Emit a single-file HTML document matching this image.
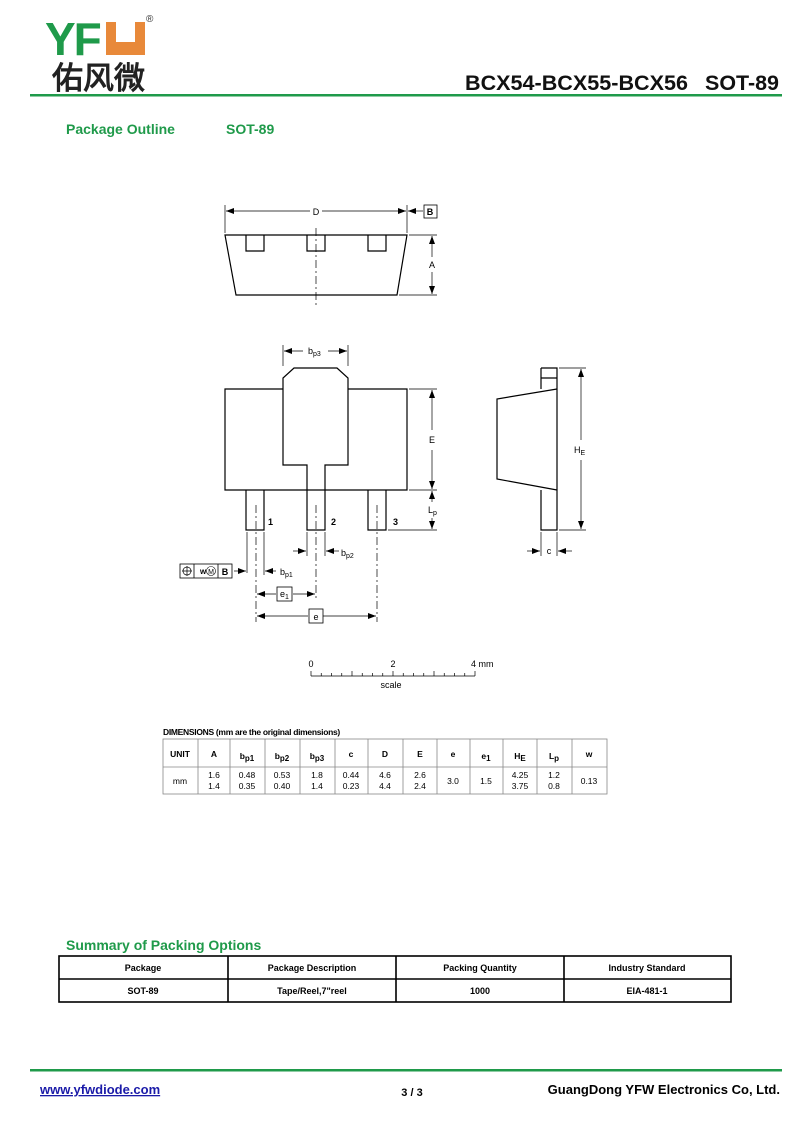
<!DOCTYPE html>
<html><head><meta charset="utf-8"><style>
html,body{margin:0;padding:0;background:#fff}
svg{display:block}
text{font-family:"Liberation Sans",Arial,sans-serif}
</style></head><body>
<svg width="800" height="1130" viewBox="0 0 800 1130" xmlns="http://www.w3.org/2000/svg">
<defs>
<marker id="ar" markerWidth="8" markerHeight="6" refX="8" refY="3" orient="auto" markerUnits="userSpaceOnUse"><path d="M0,0 L8,3 L0,6 z" fill="#000"/></marker>
</defs>
<text x="45" y="55" font-size="46" font-weight="bold" fill="#1f9a4a" letter-spacing="-2">YF</text>
<path d="M106,22 h10 v20 h19 v-20 h10 v33 h-39 z" fill="#e8893a"/>
<text x="146" y="22" font-size="10" fill="#333">®</text>
<text x="52" y="89" font-size="31" font-weight="bold" fill="#222" font-family="'Liberation Sans','Noto Sans CJK SC',sans-serif">佑风微</text>
<text x="465" y="90" font-size="21" font-weight="bold" fill="#111" textLength="223" lengthAdjust="spacingAndGlyphs">BCX54-BCX55-BCX56</text>
<text x="705" y="90" font-size="21" font-weight="bold" fill="#111" textLength="74" lengthAdjust="spacingAndGlyphs">SOT-89</text>
<rect x="30" y="94" width="752" height="2.5" fill="#1f9a4a"/>
<text x="66" y="134" font-size="14" font-weight="bold" fill="#1f9a4a">Package Outline</text>
<text x="226" y="134" font-size="14" font-weight="bold" fill="#1f9a4a">SOT-89</text>

<g stroke="#000" stroke-width="1.2" fill="none">
<path d="M225,235 L407,235 L397,295 L236,295 Z"/>
<path d="M246,235 v16 h18 v-16 M307,235 v16 h18 v-16 M368,235 v16 h18 v-16"/>
<path d="M316,228 V305" stroke-dasharray="8,3,2,3" stroke-width="0.7"/>
<path d="M225,205 V233 M407,205 V233" stroke-width="0.7"/>
<path d="M310,211 H226" marker-end="url(#ar)" stroke-width="0.7"/>
<path d="M322,211 H406" marker-end="url(#ar)" stroke-width="0.7"/>
<path d="M423,211 H408" marker-end="url(#ar)" stroke-width="0.7"/>
<rect x="424" y="205" width="13" height="13" stroke-width="0.8"/>
<path d="M409,235 H437 M399,295 H437" stroke-width="0.7"/>
<path d="M432,257 V236" marker-end="url(#ar)" stroke-width="0.7"/>
<path d="M432,272 V294" marker-end="url(#ar)" stroke-width="0.7"/>

<path d="M283,389 H225 V490 H407 V389 H348"/>
<path d="M283,465 V378 L294,368 H337 L348,378 V465 H325 V530 H307 V465 Z"/>
<path d="M246,490 V530 H264 V490 M368,490 V530 H386 V490"/>
<path d="M256,505 V622 M316,505 V600 M377,505 V622" stroke-dasharray="8,3,2,3" stroke-width="0.7"/>
<path d="M283,345 V366 M348,345 V366" stroke-width="0.7"/>
<path d="M303,351 H284" marker-end="url(#ar)" stroke-width="0.7"/>
<path d="M328,351 H347" marker-end="url(#ar)" stroke-width="0.7"/>
<path d="M409,389 H437 M409,490 H437 M388,530 H437" stroke-width="0.7"/>
<path d="M432,430 V390" marker-end="url(#ar)" stroke-width="0.7"/>
<path d="M432,450 V489" marker-end="url(#ar)" stroke-width="0.7"/>
<path d="M432,502 V491" marker-end="url(#ar)" stroke-width="0.7"/>
<path d="M432,518 V529" marker-end="url(#ar)" stroke-width="0.7"/>
<path d="M307,532 V556 M325,532 V556 M247,532 V573 M264,532 V575" stroke-width="0.7"/>
<path d="M293,551 H306" marker-end="url(#ar)" stroke-width="0.7"/>
<path d="M339,551 H326" marker-end="url(#ar)" stroke-width="0.7"/>
<path d="M276,571 H265" marker-end="url(#ar)" stroke-width="0.7"/>
<path d="M234,571 H246" marker-end="url(#ar)" stroke-width="0.7"/>
<rect x="180" y="564" width="52" height="14" stroke-width="0.8"/>
<path d="M194,564 V578 M218,564 V578" stroke-width="0.8"/>
<circle cx="187" cy="571" r="4" stroke-width="0.7"/>
<path d="M182,571 H192 M187,566 V576" stroke-width="0.7"/>
<circle cx="211" cy="571" r="4.5" stroke-width="0.6"/>
<path d="M276,594 H257" marker-end="url(#ar)" stroke-width="0.7"/>
<path d="M293,594 H315" marker-end="url(#ar)" stroke-width="0.7"/>
<rect x="277" y="587" width="15" height="14" stroke-width="0.8"/>
<path d="M308,616 H257" marker-end="url(#ar)" stroke-width="0.7"/>
<path d="M323,616 H376" marker-end="url(#ar)" stroke-width="0.7"/>
<rect x="309" y="609" width="14" height="14" stroke-width="0.8"/>

<path d="M541,368 H557 V530 H541 V490 M541,368 V389 M541,378 H557"/>
<path d="M557,389 L497,399 V479 L557,490"/>
<path d="M559,368 H586 M559,530 H586" stroke-width="0.7"/>
<path d="M581,440 V369" marker-end="url(#ar)" stroke-width="0.7"/>
<path d="M581,460 V529" marker-end="url(#ar)" stroke-width="0.7"/>
<path d="M541,532 V556 M557,532 V556" stroke-width="0.7"/>
<path d="M527,551 H540" marker-end="url(#ar)" stroke-width="0.7"/>
<path d="M572,551 H558" marker-end="url(#ar)" stroke-width="0.7"/>

<path d="M311,676 H475" stroke-width="0.7"/>
<path d="M311,671 V676 M352,671 V676 M393,671 V676 M434,671 V676 M475,671 V676 M321.25,673 V676 M331.5,673 V676 M341.75,673 V676 M362.25,673 V676 M372.5,673 V676 M382.75,673 V676 M403.25,673 V676 M413.5,673 V676 M423.75,673 V676 M444.25,673 V676 M454.5,673 V676 M464.75,673 V676" stroke-width="0.7"/>
</g>

<g font-size="9" fill="#000">
<text x="316" y="215" text-anchor="middle">D</text>
<text x="430" y="215" text-anchor="middle" font-weight="bold">B</text>
<text x="432" y="268" text-anchor="middle">A</text>
<text x="308" y="354">b<tspan font-size="7" dy="2">p3</tspan></text>
<text x="432" y="443" text-anchor="middle">E</text>
<text x="428" y="513">L<tspan font-size="7" dy="2">p</tspan></text>
<text x="574" y="453">H<tspan font-size="7" dy="2">E</tspan></text>
<text x="268" y="525" font-weight="bold">1</text>
<text x="331" y="525" font-weight="bold">2</text>
<text x="393" y="525" font-weight="bold">3</text>
<text x="341" y="556">b<tspan font-size="7" dy="2">p2</tspan></text>
<text x="280" y="575">b<tspan font-size="7" dy="2">p1</tspan></text>
<text x="280" y="597">e<tspan font-size="7" dy="2">1</tspan></text>
<text x="316" y="620" text-anchor="middle">e</text>
<text x="549" y="554" text-anchor="middle">c</text>
<text x="200" y="574" font-size="8" font-weight="bold">w</text>
<text x="211" y="574" font-size="7" text-anchor="middle">M</text>
<text x="225" y="575" text-anchor="middle" font-weight="bold">B</text>
<text x="311" y="667" text-anchor="middle">0</text>
<text x="393" y="667" text-anchor="middle">2</text>
<text x="471" y="667">4 mm</text>
<text x="391" y="688" text-anchor="middle">scale</text>
</g>

<text x="163" y="735" font-size="8.5" font-weight="bold" letter-spacing="-0.3">DIMENSIONS (mm are the original dimensions)</text>
<g stroke="#888" stroke-width="0.8" fill="none">
<rect x="163" y="739" width="444" height="55"/>
<path d="M163,767 H607 M198,739 V794 M230,739 V794 M265,739 V794 M300,739 V794 M335,739 V794 M368,739 V794 M403,739 V794 M437,739 V794 M470,739 V794 M503,739 V794 M537,739 V794 M572,739 V794"/>
</g>
<g font-size="8.5" text-anchor="middle" fill="#000">
<g font-weight="bold">
<text x="180" y="757">UNIT</text>
<text x="214" y="757">A</text>
<text x="247" y="759">b<tspan font-size="8" dy="2">p1</tspan></text>
<text x="282" y="759">b<tspan font-size="8" dy="2">p2</tspan></text>
<text x="317" y="759">b<tspan font-size="8" dy="2">p3</tspan></text>
<text x="351" y="757">c</text>
<text x="385" y="757">D</text>
<text x="420" y="757">E</text>
<text x="453" y="757">e</text>
<text x="486" y="759">e<tspan font-size="8" dy="2">1</tspan></text>
<text x="520" y="759">H<tspan font-size="8" dy="2">E</tspan></text>
<text x="554" y="759">L<tspan font-size="8" dy="2">p</tspan></text>
<text x="589" y="757">w</text>
</g>
<text x="180" y="784">mm</text>
<text x="214" y="778">1.6</text><text x="214" y="789">1.4</text>
<text x="247" y="778">0.48</text><text x="247" y="789">0.35</text>
<text x="282" y="778">0.53</text><text x="282" y="789">0.40</text>
<text x="317" y="778">1.8</text><text x="317" y="789">1.4</text>
<text x="351" y="778">0.44</text><text x="351" y="789">0.23</text>
<text x="385" y="778">4.6</text><text x="385" y="789">4.4</text>
<text x="420" y="778">2.6</text><text x="420" y="789">2.4</text>
<text x="453" y="784">3.0</text>
<text x="486" y="784">1.5</text>
<text x="520" y="778">4.25</text><text x="520" y="789">3.75</text>
<text x="554" y="778">1.2</text><text x="554" y="789">0.8</text>
<text x="589" y="784">0.13</text>
</g>

<text x="66" y="950" font-size="14" font-weight="bold" fill="#1f9a4a">Summary of Packing Options</text>
<g stroke="#000" stroke-width="1.6" fill="none">
<rect x="59" y="956" width="672" height="46"/>
<path d="M59,979 H731 M228,956 V1002 M396,956 V1002 M564,956 V1002"/>
</g>
<g font-size="9" font-weight="bold" text-anchor="middle">
<text x="143" y="971">Package</text>
<text x="312" y="971">Package Description</text>
<text x="480" y="971">Packing Quantity</text>
<text x="647" y="971">Industry Standard</text>
<text x="143" y="994">SOT-89</text>
<text x="312" y="994">Tape/Reel,7"reel</text>
<text x="480" y="994">1000</text>
<text x="647" y="994">EIA-481-1</text>
</g>

<rect x="30" y="1069" width="752" height="2.5" fill="#1f9a4a"/>
<text x="40" y="1094" font-size="13" font-weight="bold" fill="#1a1aa8" text-decoration="underline">www.yfwdiode.com</text>
<text x="412" y="1096" font-size="11" font-weight="bold" text-anchor="middle">3 / 3</text>
<text x="780" y="1094" font-size="13" font-weight="bold" text-anchor="end">GuangDong YFW Electronics Co, Ltd.</text>
</svg>
</body></html>
